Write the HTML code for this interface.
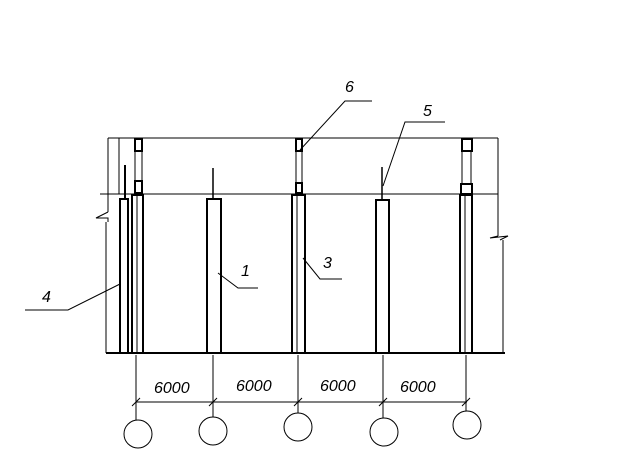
<!DOCTYPE html>
<html><head><style>body{margin:0;background:#fff}svg{display:block}</style></head><body>
<svg width="621" height="463" viewBox="0 0 621 463" xmlns="http://www.w3.org/2000/svg" font-family="Liberation Sans, sans-serif" font-style="italic">
<rect width="621" height="463" fill="#fff"/>
<g stroke="#000" fill="none" stroke-width="1">
<line x1="108" y1="138" x2="498" y2="138"/>
<line x1="100" y1="194" x2="498" y2="194"/>
<line x1="108" y1="138" x2="108" y2="212"/>
<line x1="119" y1="138" x2="119" y2="194"/>
<polyline points="108,212 96,218 108,218 108,222"/>
<line x1="106" y1="222" x2="106" y2="353"/>
<line x1="498" y1="138" x2="498" y2="236"/>
<polyline points="498,236 490,238 508,236 500,240"/>
<line x1="503" y1="240" x2="503" y2="353"/>
</g>
<line x1="106" y1="353" x2="505" y2="353" stroke="#000" stroke-width="2"/>
<g stroke="#000" fill="none" stroke-width="2">
<!-- column 4 -->
<rect x="120" y="199" width="8" height="154"/>
<line x1="125" y1="165" x2="125" y2="199"/>
<!-- column A -->
<rect x="132" y="195" width="11" height="158"/>
<line x1="137" y1="195" x2="137" y2="353" stroke-width="1"/>
<rect x="135" y="139" width="7" height="12"/>
<rect x="135" y="181" width="7" height="12"/>
<line x1="135" y1="151" x2="135" y2="181" stroke-width="1"/>
<line x1="142" y1="151" x2="142" y2="181" stroke-width="1"/>
<!-- column 1 -->
<rect x="207" y="199" width="14" height="154"/>
<line x1="213" y1="168" x2="213" y2="199" stroke-width="1.5"/>
<!-- column 3 -->
<rect x="292" y="195" width="13" height="158"/>
<line x1="297" y1="195" x2="297" y2="353" stroke-width="1"/>
<rect x="296" y="139" width="6" height="12"/>
<rect x="296" y="183" width="6" height="10"/>
<line x1="296" y1="151" x2="296" y2="183" stroke-width="1"/>
<line x1="302" y1="151" x2="302" y2="183" stroke-width="1"/>
<!-- column 5 -->
<rect x="376" y="200" width="13" height="153"/>
<line x1="382" y1="167" x2="382" y2="200" stroke-width="1.5"/>
<!-- column right -->
<rect x="460" y="195" width="12" height="158"/>
<line x1="465" y1="195" x2="465" y2="353" stroke-width="1"/>
<rect x="462" y="139" width="10" height="12"/>
<rect x="461" y="184" width="11" height="10"/>
<line x1="462" y1="151" x2="462" y2="184" stroke-width="1"/>
<line x1="471" y1="151" x2="471" y2="184" stroke-width="1"/>
</g>
<g stroke="#000" fill="none" stroke-width="1">
<!-- leaders -->
<polyline points="372,101 345,101 300,150"/>
<polyline points="445,122 405,122 383,186"/>
<polyline points="25,310 68,310 120,284"/>
<polyline points="258,288 238,288 218,273"/>
<polyline points="342,279 320,279 303,258"/>
<!-- dimensions -->
<line x1="136" y1="402" x2="467" y2="402"/>
<line x1="136" y1="355" x2="136" y2="420"/>
<line x1="213" y1="355" x2="213" y2="417"/>
<line x1="298" y1="355" x2="298" y2="413"/>
<line x1="383" y1="355" x2="383" y2="418"/>
<line x1="466" y1="355" x2="466" y2="411"/>
<line x1="132" y1="406" x2="140" y2="398"/>
<line x1="209" y1="406" x2="217" y2="398"/>
<line x1="294" y1="406" x2="302" y2="398"/>
<line x1="379" y1="406" x2="387" y2="398"/>
<line x1="462" y1="406" x2="470" y2="398"/>
<circle cx="138" cy="434" r="14"/>
<circle cx="213" cy="431" r="14"/>
<circle cx="298" cy="427" r="14"/>
<circle cx="384" cy="432" r="14"/>
<circle cx="467" cy="425" r="14"/>
</g>
<g font-size="16" fill="#000">
<text x="154" y="393">6000</text>
<text x="236" y="391">6000</text>
<text x="320" y="391">6000</text>
<text x="400" y="392">6000</text>
<text x="345" y="92">6</text>
<text x="423" y="116">5</text>
<text x="42" y="302">4</text>
<text x="241" y="276">1</text>
<text x="323" y="268">3</text>
</g>
</svg>
</body></html>
